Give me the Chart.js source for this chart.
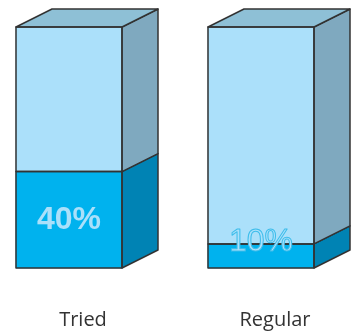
<!DOCTYPE html>
<html>
<head>
<meta charset="utf-8">
<script src="https://cdn.jsdelivr.net/npm/chart.js@4/dist/chart.umd.min.js"></script>
<style>
  html, body { margin: 0; padding: 0; background: #ffffff; }
  #wrap { width: 359px; height: 334px; }
</style>
</head>
<body>
<div id="wrap"><canvas id="c"></canvas></div>
<script>
// Share of people who have tried vs. regularly use (percent)
const categories = ['Tried', 'Regular'];
const shareValues = [40, 10];
const remainderValues = [60, 90];
const yTicks = [0, 100];

const FRONT = ['#00b2ee', '#abe0fa'];
const SIDE = ['#0083b4', '#7fa9bf'];
const TOP = '#8ec0d6';
const EDGE = '#333333';
const DEPTH_X = 36, DEPTH_Y = -18;

// Extrudes each bar segment into a box: right side face, top lid and outlines
const boxPlugin = {
  id: 'box3d',
  afterDatasetsDraw(chart) {
    const ctx = chart.ctx;
    const count = chart.data.datasets.length;
    ctx.save();
    ctx.lineJoin = 'round';
    ctx.strokeStyle = EDGE;
    ctx.lineWidth = 1.5;
    for (let d = 0; d < count; d++) {
      const meta = chart.getDatasetMeta(d);
      meta.data.forEach((bar) => {
        const p = bar.getProps(['x', 'y', 'base', 'width'], true);
        const l = p.x - p.width / 2, r = p.x + p.width / 2;
        const t = Math.min(p.y, p.base), b = Math.max(p.y, p.base);
        // side face
        ctx.beginPath();
        ctx.moveTo(r, t);
        ctx.lineTo(r + DEPTH_X, t + DEPTH_Y);
        ctx.lineTo(r + DEPTH_X, b + DEPTH_Y);
        ctx.lineTo(r, b);
        ctx.closePath();
        ctx.fillStyle = SIDE[d];
        ctx.fill();
        ctx.stroke();
        // lid on the topmost segment
        if (d === count - 1) {
          ctx.beginPath();
          ctx.moveTo(l, t);
          ctx.lineTo(l + DEPTH_X, t + DEPTH_Y);
          ctx.lineTo(r + DEPTH_X, t + DEPTH_Y);
          ctx.lineTo(r, t);
          ctx.closePath();
          ctx.fillStyle = TOP;
          ctx.fill();
          ctx.stroke();
        }
        // front outline
        ctx.strokeRect(l, t, r - l, b - t);
      });
    }
    // value labels on the share segment
    const meta = chart.getDatasetMeta(0);
    meta.data.forEach((bar, i) => {
      const p = bar.getProps(['x', 'y', 'base'], true);
      const text = shareValues[i] + '%';
      const segH = Math.abs(p.base - p.y);
      const roomy = segH > 48;
      const cy = Math.min((p.y + p.base) / 2, p.base - 26);
      ctx.textAlign = 'center';
      ctx.textBaseline = 'middle';
      if (roomy) {
        ctx.font = 'bold 32px "Liberation Sans", Arial, sans-serif';
        ctx.fillStyle = '#abe0fa';
        ctx.fillText(text, p.x, cy);
      } else {
        ctx.font = '32px "Liberation Sans", Arial, sans-serif';
        ctx.fillStyle = '#abe0fa';
        ctx.fillText(text, p.x, cy);
        ctx.lineWidth = 1;
        ctx.strokeStyle = '#3dbdeb';
        ctx.strokeText(text, p.x, cy);
      }
    });
    ctx.restore();
  }
};

new Chart(document.getElementById('c'), {
  type: 'bar',
  data: {
    labels: categories,
    datasets: [
      { data: shareValues, backgroundColor: FRONT[0], borderWidth: 0, clip: false },
      { data: remainderValues, backgroundColor: FRONT[1], borderWidth: 0, clip: false }
    ]
  },
  options: {
    responsive: true,
    maintainAspectRatio: false,
    animation: false,
    events: [],
    layout: { padding: { left: 69, right: 98, top: 27, bottom: 3 } },
    plugins: { legend: { display: false }, tooltip: { enabled: false } },
    datasets: { bar: { barThickness: 106 } },
    scales: {
      x: {
        stacked: true,
        offset: false,
        grid: { display: false, drawTicks: false },
        border: { display: false },
        afterFit(scale) { scale.height = 63; },
        ticks: {
          padding: 40,
          labelOffset: 14,
          maxRotation: 0,
          autoSkip: false,
          color: '#333333',
          font: { family: '"Open Sans", sans-serif', size: 20 }
        }
      },
      y: {
        stacked: true,
        display: false,
        min: yTicks[0],
        max: yTicks[yTicks.length - 1]
      }
    }
  },
  plugins: [boxPlugin]
});
</script>
</body>
</html>
